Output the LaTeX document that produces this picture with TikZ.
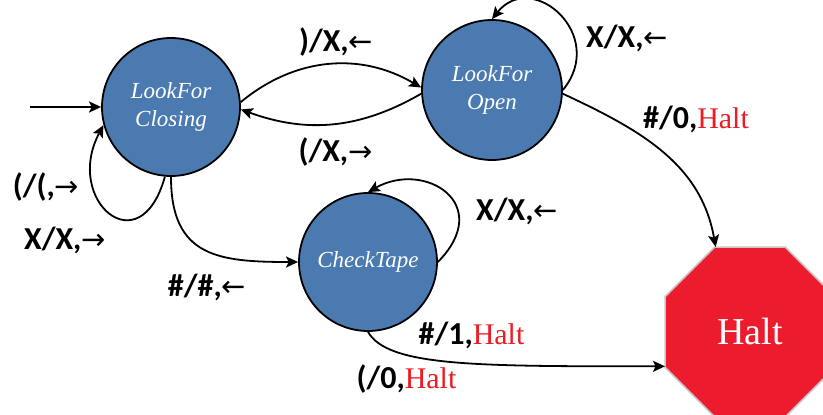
\documentclass[tikz,border=0pt]{standalone}
\usepackage{fontspec}
\setmainfont{Liberation Serif}
\newfontfamily\labfont{Carlito}
\newfontfamily\arrfont{DejaVu Sans}
\usetikzlibrary{arrows.meta,shapes.geometric}
\definecolor{stblue}{HTML}{4A7AB0}
\definecolor{haltred}{HTML}{EC1C2E}
\definecolor{txtred}{HTML}{ED1C24}
\newcommand\myL{{\arrfont\mdseries\fontsize{29}{30}\selectfont ←}}
\newcommand\myR{{\arrfont\mdseries\fontsize{29}{30}\selectfont →}}
\newcommand\myH{{\rmfamily\mdseries\fontsize{30}{34}\selectfont\color{txtred}Halt}}
\begin{document}
\begin{tikzpicture}[x=1pt,y=1pt,
 state/.style={circle, draw=black, line width=1.8pt, fill=stblue, minimum size=138pt, inner sep=0pt,
   text=white, font=\fontsize{23}{28}\selectfont\itshape, align=center},
 edge/.style={line width=1.8pt, -{Stealth[length=12pt,width=11pt,inset=2.5pt]}},
 lab/.style={font=\fontsize{32}{36}\selectfont\labfont\bfseries, inner sep=0pt}
]
\useasboundingbox (0,0) rectangle (823,415);
\node[state] (lfc) at (171,308) {LookFor\\Closing};
\node[state, minimum size=140pt] (lfo) at (492,325) {LookFor\\Open};
\node[state] (ct) at (368,153) {CheckTape};
\node[regular polygon, regular polygon sides=8, minimum size=184pt, inner sep=0pt, outer sep=0pt,
  fill=haltred, draw=gray!45, line width=1.5pt, text=white, font=\fontsize{38}{40}\selectfont] (halt) at (750,83) {Halt};
\coordinate (init) at (30,308);

\draw[edge] (init) -- (lfc.west);
\draw[edge] (lfc.4) to[bend left=35] (lfo.178);
\draw[edge] (lfo.183) to[bend left=25] (lfc.-2);
\draw[edge] (lfc.265) .. controls +(-25,-90) and +(-40,-75) .. (lfc.195);
\draw[edge] (lfo.east) .. controls +(45,55) and +(40,50) .. (lfo.north);
\draw[edge] (lfc.south) .. controls +(0,-80) and +(-80,0) .. (ct.west);
\draw[edge] (ct.east) .. controls +(57,58) and +(57,32) .. (ct.north);
\draw[edge] (lfo.-3) to[out=-25,in=100] (halt.112.5);
\draw[edge] (ct.south) .. controls +(-60:40) and +(180:190) .. (halt.202.5);

\node[lab] (l1) at (336,372.5) {)/X,\myL};
\node[lab] (l2) at (335.5,262.5) {(/X,\myR};
\node[lab] (l3) at (46,228) {(/(,\myR};
\node[lab] (l4) at (65,175) {X/X,\myR};
\node[lab] (l5) at (207,127.5) {\#/\#,\myL};
\node[lab] (l6) at (627,377) {X/X,\myL};
\node[lab] (l7) at (696,295.5) {\#/0,\myH};
\node[lab] (l8) at (517,204) {X/X,\myL};
\node[lab] (l9) at (471.5,80) {\#/1,\myH};
\node[lab] (l10) at (406.5,36) {(/0,\myH};
\end{tikzpicture}
\end{document}
